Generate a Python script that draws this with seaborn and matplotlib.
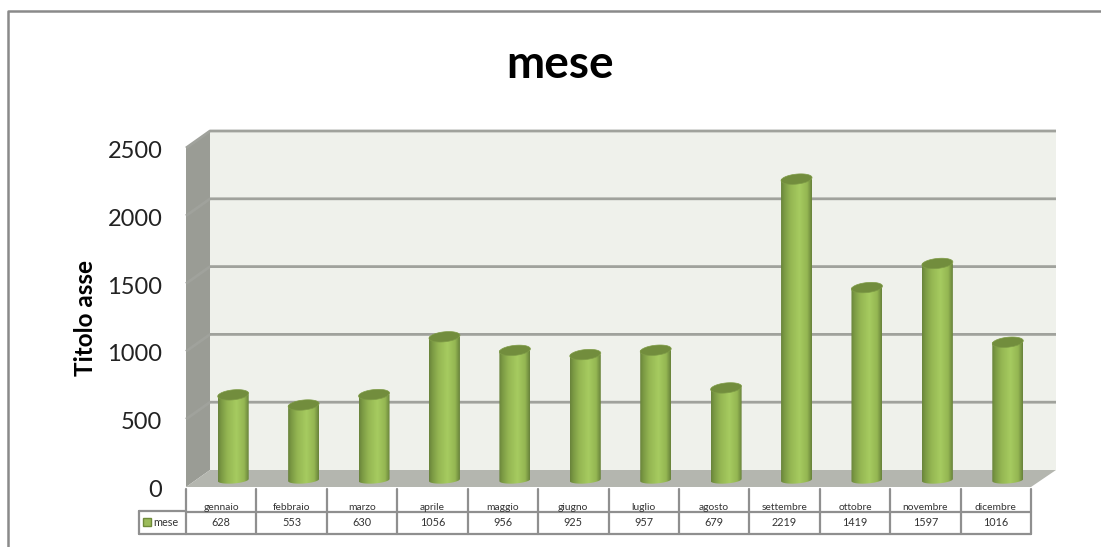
import numpy as np
import pandas as pd
import seaborn as sns
import matplotlib
matplotlib.use("Agg")
import matplotlib.pyplot as plt
from matplotlib.colors import LinearSegmentedColormap
from matplotlib.patches import Polygon, Rectangle
from matplotlib.transforms import ScaledTranslation

months = ["gennaio", "febbraio", "marzo", "aprile", "maggio", "giugno",
          "luglio", "agosto", "settembre", "ottobre", "novembre", "dicembre"]
values = [628, 553, 630, 1056, 956, 925, 957, 679, 2219, 1419, 1597, 1016]
y_ticks = [0, 500, 1000, 1500, 2000, 2500]
series_name = "mese"
axis_title = "Titolo asse"

W, H = 1101, 547
FRONT_L, FRONT_R, FRONT_B, FRONT_T = 186, 1031, 487, 148
DEPTH_X, DEPTH_Y = 24, 17

sns.set_theme(style="white")
plt.rcParams["font.family"] = ["Lato", "DejaVu Sans"]

fig = plt.figure(figsize=(W / 100, H / 100), dpi=100, facecolor="white")


def axes_px(l, r, t, b, **kw):
    return fig.add_axes([l / W, 1 - b / H, (r - l) / W, (b - t) / H], **kw)


# page layer in pixels: frame, walls, floor
page = fig.add_axes([0, 0, 1, 1], zorder=0)
page.set_xlim(0, W)
page.set_ylim(H, 0)
page.axis("off")
frame = "#8a8a8a"
page.plot([8, 8, W], [H, 11, 11], color=frame, lw=1.8)

# front plane axes: carries the value scale and tick labels
front = axes_px(FRONT_L, FRONT_R, FRONT_T, FRONT_B, zorder=1)
front.patch.set_alpha(0)
front.set_xlim(-0.5, 11.5)
front.set_ylim(0, 2500)
front.set_yticks(y_ticks)
front.set_xticks([])
front.tick_params(axis="y", length=0, pad=17, labelsize=17, labelcolor="#222222")
for s in front.spines.values():
    s.set_visible(False)
shift = ScaledTranslation(0, -1.1 / 72, fig.dpi_scale_trans)
for lab in front.get_yticklabels():
    lab.set_transform(lab.get_transform() + shift)
front.set_ylabel(axis_title, fontsize=17.5, fontweight="bold", color="black")
front.yaxis.set_label_coords((97 - FRONT_L) / (FRONT_R - FRONT_L), 0.5)

# walls derived from the front plane
px_per_val = (FRONT_B - FRONT_T) / 2500
page.add_patch(Polygon([(FRONT_L + DEPTH_X, FRONT_T - DEPTH_Y), (FRONT_R + DEPTH_X + 1, FRONT_T - DEPTH_Y),
                        (FRONT_R + DEPTH_X + 1, FRONT_B - DEPTH_Y), (FRONT_L + DEPTH_X, FRONT_B - DEPTH_Y)],
                       fc="#eff1eb", ec="none"))
page.add_patch(Polygon([(FRONT_L, FRONT_T), (FRONT_L + DEPTH_X, FRONT_T - DEPTH_Y),
                        (FRONT_L + DEPTH_X, FRONT_B - DEPTH_Y), (FRONT_L, FRONT_B)],
                       fc="#9a9c95", ec="none"))
page.add_patch(Polygon([(FRONT_L, FRONT_B), (FRONT_L + DEPTH_X, FRONT_B - DEPTH_Y),
                        (FRONT_R + DEPTH_X + 1, FRONT_B - DEPTH_Y), (FRONT_R, FRONT_B)],
                       fc="#b4b6af", ec="none"))
for v in y_ticks[1:]:
    y = FRONT_B - v * px_per_val
    page.plot([FRONT_L, FRONT_L + DEPTH_X, FRONT_R + DEPTH_X + 1],
              [y, y - DEPTH_Y, y - DEPTH_Y], color="#a0a29c", lw=2, solid_capstyle="butt")

# bar axes: same scale, shifted to mid depth
bars_ax = axes_px(FRONT_L + 12, FRONT_R + 12, FRONT_T - 7, FRONT_B - 7, zorder=2)
df = pd.DataFrame({"month": months, "value": values})
sns.barplot(data=df, x="month", y="value", ax=bars_ax, color="#a2c65c", width=0.44,
            saturation=1, order=months, linewidth=0)
bars_ax.set_xlim(-0.5, 11.5)
bars_ax.set_ylim(0, 2500)
bars_ax.axis("off")
bars_ax.patch.set_alpha(0)

cyl = LinearSegmentedColormap.from_list("cyl", [(0, "#68833a"), (0.1, "#7a9843"),
                                                (0.3, "#94b652"), (0.6, "#a6cb60"),
                                                (0.85, "#94b652"), (1, "#67823a")])
grad = np.linspace(0, 1, 128).reshape(1, -1)
EH = 5.0 / px_per_val   # half height of the top cap, value units
t = np.linspace(0, 2 * np.pi, 80)
for p in list(bars_ax.patches):
    x0, w, v = p.get_x(), p.get_width(), p.get_height()
    a, c = w / 2, x0 + w / 2
    tilt_v = 1.5 / px_per_val * np.cos(t)
    ex, ey = c + a * np.cos(t), EH * np.sin(t) + tilt_v
    lower = t > np.pi
    body = np.r_[np.c_[ex[lower], 0.7 * ey[lower]], [[x0 + w, v], [x0, v]]]
    im = bars_ax.imshow(grad, extent=[x0, x0 + w, -2 * EH, v + EH], aspect="auto",
                        cmap=cyl, vmin=0, vmax=1, zorder=3, interpolation="bilinear")
    im.set_clip_box(fig.bbox)
    im.set_clip_path(Polygon(body, closed=True, transform=bars_ax.transData))
    bars_ax.add_patch(Polygon(np.c_[ex, v + ey], closed=True, fc="#728d3d", ec="#7f9c47",
                              lw=0.5, zorder=4))
    p.set_visible(False)
bars_ax.set_xlim(-0.5, 11.5)
bars_ax.set_ylim(0, 2500)

# data table below the front plane
tab = axes_px(FRONT_L, FRONT_R, 489, 534, zorder=3)
tab.set_xlim(-0.5, 11.5)
tab.set_ylim(2, 0)
tab.axis("off")
line = "#8f8f8f"
tc = "#333333"
for i, (m, v) in enumerate(zip(months, values)):
    tab.text(i, 0.8, m, ha="center", va="center", fontsize=7.4, color=tc, clip_on=False)
    tab.text(i, 1.5, str(v), ha="center", va="center", fontsize=7.8, color=tc, clip_on=False)
lw = 1.6
for i in range(13):
    tab.plot([i - 0.5, i - 0.5], [0, 2], color=line, lw=lw, clip_on=False)
tab.plot([-0.5, 11.5], [1, 1], color=line, lw=lw, clip_on=False)
tab.plot([-0.5, 11.5], [2, 2], color=line, lw=lw, clip_on=False)
# legend key column
page.plot([139, 186], [511, 511], color=line, lw=lw, zorder=5)
page.plot([139, 186], [534, 534], color=line, lw=lw, zorder=5)
page.plot([139, 139], [511, 534], color=line, lw=lw, zorder=5)
page.add_patch(Rectangle((143, 518), 8, 8, fc="#9bbb59", ec="#6f8a3a", lw=1, zorder=5))
page.text(153, 522.5, series_name, ha="left", va="center", fontsize=7.8, color=tc, zorder=5)

fig.text(560 / W, 1 - 65 / H, series_name, ha="center", va="center",
         fontsize=33, fontweight="bold", color="black")

fig.savefig("out.png", dpi=100)
